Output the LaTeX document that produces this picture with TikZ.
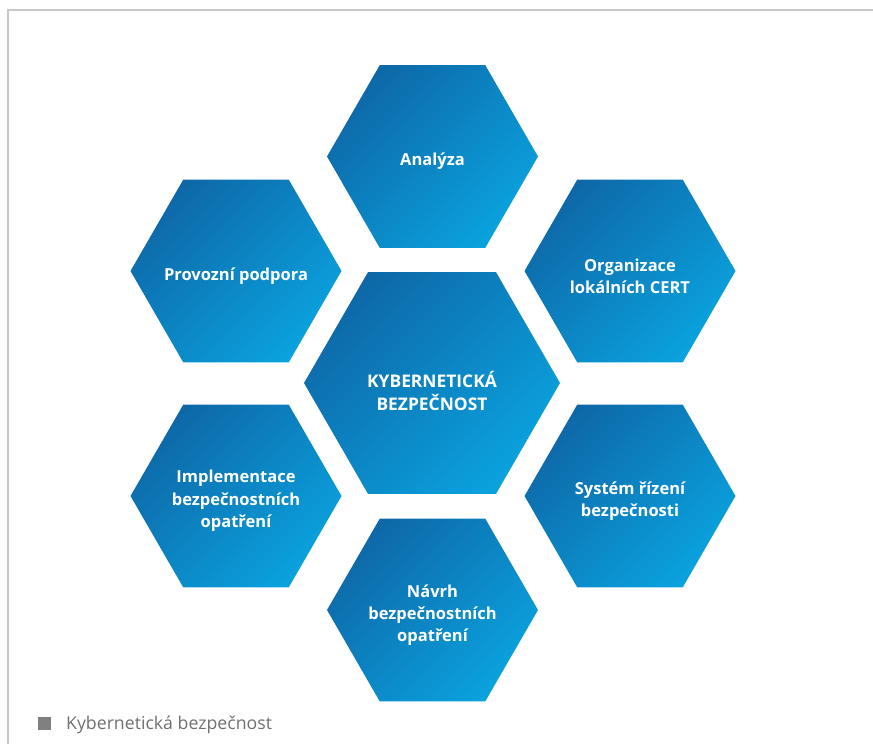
\documentclass[tikz,border=0pt]{standalone}
\usepackage{fontspec}
\setmainfont{Open Sans}
\usetikzlibrary{shapes.geometric}
\definecolor{hexdark}{RGB}{14,104,168}
\definecolor{hexlight}{RGB}{10,162,222}
\definecolor{frame}{RGB}{200,200,200}
\definecolor{capgray}{RGB}{112,112,112}
\definecolor{markgray}{RGB}{128,128,128}

\begin{document}
\begin{tikzpicture}[
    x=1pt, y=-1pt,
    hexshape/.style={regular polygon, regular polygon sides=6, inner sep=0pt,
      minimum size=#1, top color=hexdark, bottom color=hexlight,
      shading angle=45},
    hextext/.style={text=white, align=center, yshift=-5pt,
      font=\fontsize{16.5}{22.3}\selectfont\bfseries},
    coretext/.style={hextext, yshift=-3pt,
      font=\fontsize{17.4}{23}\selectfont\bfseries},
    hexbox/.style={hexshape=211pt, label={[hextext]center:{#1}}},
    hexcore/.style={hexshape=256pt, label={[coretext]center:{#1}}},
    caption/.style={font=\fontsize{17.7}{20}\selectfont, text=capgray}
  ]
    \useasboundingbox (0,0) rectangle (873,744);

    % Frame
    \draw[frame, line width=2pt] (8,744) -- (8,9.5) -- (873,9.5);

    % Centre
    \node[hexcore={KYBERNETICKÁ\\BEZPEČNOST}] (core) at (432,383) {};

    % Ring
    \node[hexbox={Analýza}] (analyza) at (432.5,156.5) {};
    \node[hexbox={Provozní podpora}] (provoz) at (236,271) {};
    \node[hexbox={Organizace\\lokálních CERT}] (cert) at (630,271) {};
    \node[hexbox={Implementace\\bezpečnostních\\opatření}] (impl) at (236,496) {};
    \node[hexbox={Systém řízení\\bezpečnosti}] (system) at (630,496) {};
    \node[hexbox={Návrh\\bezpečnostních\\opatření}] (navrh) at (432.5,610) {};

    % Caption
    \node[fill=markgray, minimum size=13pt, inner sep=0pt] (mark) at (44,723) {};
    \node[caption, anchor=base west, inner sep=0pt] (title) at (66,729.5) {Kybernetická bezpečnost};
  \end{tikzpicture}
\end{document}
